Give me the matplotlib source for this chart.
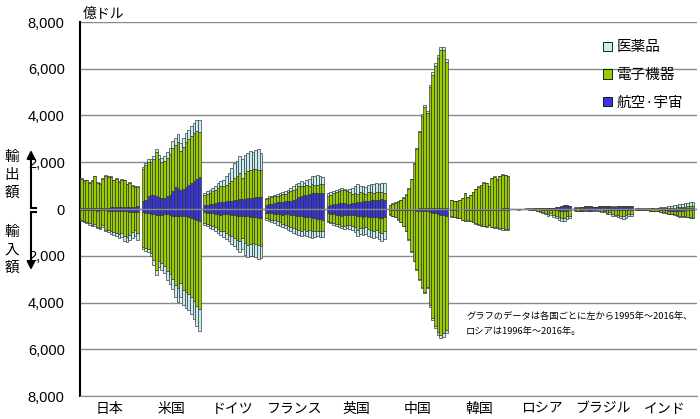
import matplotlib.pyplot as plt
from matplotlib.patches import Patch
import numpy as np

plt.rcParams['font.family'] = ['Noto Sans CJK JP', 'DejaVu Sans']

countries = ['日本', '米国', 'ドイツ', 'フランス', '英国', '中国', '韓国', 'ロシア', 'ブラジル', 'インド']
start_year = [1995, 1995, 1995, 1995, 1995, 1995, 1995, 1996, 1995, 1995]
series_names = ['医薬品', '電子機器', '航空·宇宙']

# 億ドル, exports (ex) and imports (im, stored as positive amounts)
jp_ex_aero = [40, 40, 45, 45, 45, 50, 50, 50, 50, 55, 60, 65, 70, 75, 75, 70, 75, 80, 85, 95, 100, 110]
jp_ex_elec = [1260, 1160, 1185, 1065, 1155, 1350, 1060, 1025, 1245, 1365, 1310, 1305, 1150, 1215, 1075, 1180, 1145, 970, 1015, 905, 850, 810]
jp_ex_phar = [30, 30, 30, 30, 30, 30, 30, 35, 35, 40, 40, 40, 40, 40, 40, 40, 40, 40, 40, 40, 50, 50]
jp_im_aero = [60, 60, 55, 60, 55, 60, 65, 60, 60, 60, 65, 70, 75, 80, 75, 80, 90, 100, 110, 120, 120, 130]
jp_im_elec = [430, 465, 500, 560, 630, 600, 690, 735, 640, 820, 845, 890, 915, 935, 1010, 940, 1080, 1080, 995, 885, 795, 915]
jp_im_phar = [40, 45, 45, 50, 55, 55, 60, 65, 70, 80, 90, 100, 110, 130, 160, 180, 220, 250, 240, 240, 230, 270]

us_ex_aero = [360, 400, 540, 610, 590, 570, 520, 470, 460, 540, 610, 760, 940, 900, 830, 860, 940, 1040, 1120, 1190, 1290, 1370]
us_ex_elec = [1340, 1465, 1460, 1420, 1530, 1855, 1640, 1530, 1590, 1660, 1760, 1860, 1800, 1960, 1650, 1800, 1920, 1940, 1990, 2040, 2030, 1930]
us_ex_phar = [100, 110, 120, 130, 140, 150, 170, 190, 210, 230, 250, 280, 300, 330, 350, 380, 400, 420, 440, 460, 480, 500]
us_im_aero = [140, 150, 180, 200, 220, 250, 260, 240, 230, 230, 250, 280, 300, 320, 300, 300, 320, 350, 380, 420, 480, 500]
us_im_elec = [1480, 1510, 1540, 1670, 1980, 2350, 1950, 2080, 2200, 2440, 2550, 2700, 2950, 3080, 2850, 3160, 3250, 3280, 3380, 3500, 3660, 3780]
us_im_phar = [100, 120, 140, 160, 190, 220, 250, 280, 320, 360, 400, 450, 500, 560, 600, 640, 680, 700, 740, 780, 860, 920]

de_ex_aero = [160, 190, 210, 230, 260, 290, 310, 320, 330, 340, 360, 390, 400, 430, 440, 430, 460, 470, 490, 500, 510, 515]
de_ex_elec = [460, 470, 470, 530, 570, 610, 660, 660, 710, 770, 830, 940, 1000, 1110, 890, 1110, 1160, 1190, 1200, 1190, 1150, 1140]
de_ex_phar = [70, 100, 140, 140, 140, 210, 220, 280, 360, 430, 570, 640, 640, 720, 790, 790, 760, 810, 740, 830, 890, 740]
de_im_aero = [140, 150, 165, 180, 200, 220, 240, 230, 220, 230, 240, 260, 280, 300, 290, 300, 320, 330, 340, 360, 380, 390]
de_im_elec = [460, 480, 505, 530, 570, 640, 680, 730, 810, 870, 930, 980, 1040, 1090, 960, 1160, 1210, 1160, 1120, 1130, 1150, 1180]
de_im_phar = [100, 110, 130, 140, 160, 180, 200, 220, 250, 280, 310, 340, 380, 430, 450, 490, 520, 540, 530, 560, 620, 530]

fr_ex_aero = [180, 200, 230, 260, 280, 280, 300, 330, 330, 360, 400, 440, 500, 560, 580, 600, 640, 680, 690, 700, 690, 680]
fr_ex_elec = [250, 270, 280, 280, 290, 330, 340, 330, 380, 400, 430, 420, 470, 440, 390, 440, 360, 390, 350, 340, 400, 410]
fr_ex_phar = [40, 70, 60, 70, 90, 80, 80, 100, 120, 140, 140, 230, 150, 190, 150, 220, 290, 330, 390, 430, 310, 280]
fr_im_aero = [150, 160, 180, 200, 220, 230, 240, 230, 230, 240, 260, 280, 300, 320, 330, 340, 360, 380, 400, 420, 440, 450]
fr_im_elec = [240, 270, 280, 290, 310, 340, 390, 440, 490, 530, 550, 580, 590, 600, 530, 580, 530, 540, 520, 500, 480, 470]
fr_im_phar = [70, 100, 110, 110, 140, 150, 140, 150, 170, 190, 220, 210, 210, 250, 240, 250, 310, 320, 290, 250, 280, 280]

uk_ex_aero = [140, 170, 200, 230, 250, 250, 240, 230, 230, 250, 270, 290, 320, 350, 330, 350, 370, 380, 390, 400, 410, 400]
uk_ex_elec = [430, 450, 490, 490, 510, 580, 560, 530, 490, 410, 420, 370, 400, 340, 330, 370, 350, 310, 330, 320, 310, 290]
uk_ex_phar = [110, 100, 70, 110, 100, 70, 70, 70, 140, 240, 290, 390, 260, 310, 290, 290, 330, 400, 400, 370, 400, 430]
uk_im_aero = [180, 200, 220, 240, 260, 280, 270, 250, 240, 250, 270, 290, 310, 330, 320, 330, 340, 350, 360, 370, 380, 360]
uk_im_elec = [320, 350, 380, 390, 400, 440, 460, 430, 440, 460, 510, 620, 490, 500, 450, 530, 560, 590, 540, 610, 630, 590]
uk_im_phar = [60, 70, 80, 90, 100, 110, 130, 150, 170, 190, 220, 240, 250, 270, 280, 290, 300, 310, 300, 320, 340, 350]

cn_ex_aero = [10, 10, 10, 10, 10, 15, 15, 15, 15, 20, 20, 25, 30, 35, 35, 40, 45, 50, 50, 60, 60, 60]
cn_ex_elec = [160, 220, 255, 295, 365, 475, 605, 835, 1250, 1910, 2530, 3265, 3950, 4335, 4085, 5160, 5695, 6080, 6430, 6760, 6760, 6220]
cn_ex_phar = [20, 20, 25, 25, 25, 30, 30, 30, 35, 40, 50, 60, 70, 80, 80, 100, 110, 120, 120, 130, 130, 120]
cn_im_aero = [30, 30, 30, 35, 35, 40, 45, 50, 55, 60, 65, 70, 80, 90, 100, 130, 160, 180, 210, 240, 270, 290]
cn_im_elec = [200, 270, 315, 400, 520, 680, 895, 1245, 1755, 2145, 2495, 2915, 3260, 3450, 3230, 3970, 4490, 4810, 5060, 5160, 5050, 4880]
cn_im_phar = [10, 10, 15, 15, 15, 20, 20, 25, 30, 35, 40, 45, 50, 60, 70, 80, 100, 110, 120, 130, 140, 150]

kr_ex_aero = [5, 5, 5, 5, 10, 10, 10, 10, 10, 10, 10, 10, 15, 15, 15, 20, 20, 20, 20, 25, 25, 25]
kr_ex_elec = [360, 350, 320, 390, 455, 675, 505, 605, 705, 845, 950, 1020, 1115, 1095, 970, 1295, 1365, 1250, 1390, 1440, 1415, 1370]
kr_ex_phar = [5, 5, 5, 5, 5, 5, 5, 5, 5, 5, 10, 10, 10, 10, 15, 15, 15, 20, 20, 25, 30, 35]
kr_im_aero = [30, 30, 30, 20, 20, 30, 30, 30, 30, 40, 40, 40, 50, 50, 50, 50, 60, 60, 60, 60, 60, 60]
kr_im_elec = [290, 320, 330, 370, 430, 485, 455, 485, 520, 580, 620, 655, 660, 680, 615, 700, 720, 725, 755, 770, 785, 785]
kr_im_phar = [10, 10, 10, 10, 10, 15, 15, 15, 20, 20, 20, 25, 30, 30, 35, 40, 40, 45, 45, 50, 55, 55]

ru_ex_aero = [5, 5, 5, 5, 10, 10, 10, 10, 15, 15, 20, 20, 25, 30, 30, 40, 50, 100, 130, 120, 110]
ru_ex_elec = [10, 10, 10, 10, 10, 10, 10, 15, 15, 15, 20, 20, 20, 20, 20, 25, 25, 25, 30, 30, 30]
ru_ex_phar = [5, 5, 5, 5, 5, 5, 5, 5, 5, 5, 5, 5, 5, 5, 5, 5, 5, 5, 5, 5, 5]
ru_im_aero = [5, 5, 5, 5, 5, 5, 10, 10, 15, 20, 25, 30, 40, 40, 50, 60, 80, 100, 90, 70, 60]
ru_im_elec = [10, 15, 10, 5, 10, 15, 20, 35, 55, 75, 100, 140, 170, 150, 190, 230, 260, 290, 310, 250, 240]
ru_im_phar = [5, 5, 5, 5, 5, 10, 10, 15, 20, 25, 35, 50, 70, 70, 90, 110, 120, 130, 130, 100, 100]

br_ex_aero = [30, 30, 40, 60, 80, 90, 80, 70, 70, 80, 80, 80, 90, 90, 80, 80, 90, 90, 90, 100, 100, 90]
br_ex_elec = [30, 30, 30, 30, 30, 40, 40, 30, 30, 30, 30, 30, 30, 30, 20, 20, 20, 20, 20, 20, 20, 20]
br_ex_phar = [5, 5, 5, 5, 5, 5, 5, 5, 5, 10, 10, 10, 10, 10, 15, 15, 15, 15, 15, 15, 15, 15]
br_im_aero = [20, 20, 25, 25, 20, 30, 25, 15, 15, 20, 20, 25, 35, 30, 35, 40, 45, 50, 55, 50, 40, 35]
br_im_elec = [40, 45, 50, 45, 40, 50, 45, 35, 40, 50, 55, 75, 135, 115, 175, 200, 215, 230, 245, 220, 170, 160]
br_im_phar = [10, 15, 15, 20, 20, 20, 20, 20, 25, 30, 35, 40, 50, 55, 70, 80, 90, 100, 110, 100, 90, 85]

in_ex_aero = [5, 5, 5, 5, 5, 5, 5, 5, 5, 5, 5, 10, 10, 15, 20, 20, 30, 40, 40, 40, 40, 40]
in_ex_elec = [10, 10, 10, 15, 15, 15, 20, 15, 20, 25, 30, 25, 35, 35, 40, 50, 50, 50, 60, 70, 70, 80]
in_ex_phar = [15, 15, 20, 20, 20, 25, 25, 30, 35, 40, 45, 55, 65, 80, 90, 100, 120, 140, 150, 160, 170, 170]
in_im_aero = [5, 5, 5, 5, 10, 10, 10, 10, 20, 30, 40, 60, 70, 80, 70, 80, 90, 80, 60, 60, 60, 60]
in_im_elec = [30, 40, 40, 40, 45, 55, 55, 60, 70, 90, 100, 110, 130, 135, 165, 190, 220, 240, 250, 270, 295, 305]
in_im_phar = [5, 5, 5, 5, 5, 5, 5, 10, 10, 10, 10, 10, 10, 15, 15, 20, 20, 20, 20, 20, 25, 25]

table = [
    (jp_ex_aero, jp_ex_elec, jp_ex_phar, jp_im_aero, jp_im_elec, jp_im_phar),
    (us_ex_aero, us_ex_elec, us_ex_phar, us_im_aero, us_im_elec, us_im_phar),
    (de_ex_aero, de_ex_elec, de_ex_phar, de_im_aero, de_im_elec, de_im_phar),
    (fr_ex_aero, fr_ex_elec, fr_ex_phar, fr_im_aero, fr_im_elec, fr_im_phar),
    (uk_ex_aero, uk_ex_elec, uk_ex_phar, uk_im_aero, uk_im_elec, uk_im_phar),
    (cn_ex_aero, cn_ex_elec, cn_ex_phar, cn_im_aero, cn_im_elec, cn_im_phar),
    (kr_ex_aero, kr_ex_elec, kr_ex_phar, kr_im_aero, kr_im_elec, kr_im_phar),
    (ru_ex_aero, ru_ex_elec, ru_ex_phar, ru_im_aero, ru_im_elec, ru_im_phar),
    (br_ex_aero, br_ex_elec, br_ex_phar, br_im_aero, br_im_elec, br_im_phar),
    (in_ex_aero, in_ex_elec, in_ex_phar, in_im_aero, in_im_elec, in_im_phar),
]

c_phar = '#c8eef5'
c_elec = '#99cc00'
c_aero = '#3737e0'
edge = '#2a2a2a'
grid_c = '#888888'
slot = 23  # 22 years + 1 empty slot between countries

fig = plt.figure(figsize=(7, 4.19), dpi=100)
ax = fig.add_axes([80 / 700, 23 / 419, 617 / 700, 374 / 419])

kw = dict(width=1.0, edgecolor=edge, linewidth=0.45, zorder=3)
for g, arrs in enumerate(table):
    ea, ee, ep, ia, ie, ip = [np.array(a, dtype=float) for a in arrs]
    x = g * slot + (start_year[g] - 1995) + np.arange(len(ea))
    ax.bar(x, ea, color=c_aero, **kw)
    ax.bar(x, ee, bottom=ea, color=c_elec, **kw)
    ax.bar(x, ep, bottom=ea + ee, color=c_phar, **kw)
    ax.bar(x, -ia, color=c_aero, **kw)
    ax.bar(x, -ie, bottom=-ia, color=c_elec, **kw)
    ax.bar(x, -ip, bottom=-ia - ie, color=c_phar, **kw)

ax.set_xlim(-0.5, 10 * slot - 0.5)
ax.set_ylim(-8000, 8000)
yt = np.arange(-8000, 8001, 2000)
ax.set_yticks(yt)
ax.set_yticklabels([f'{abs(v):,}' for v in yt], family='Liberation Sans', fontsize=10.5)
ax.set_xticks([g * slot + 10.5 for g in range(len(countries))])
ax.set_xticklabels(countries, fontsize=10)
ax.tick_params(length=0)
ax.tick_params(axis='y', pad=11)
ax.tick_params(axis='x', pad=4)

ax.grid(axis='y', color=grid_c, linewidth=1)
ax.set_axisbelow(True)
ax.axhline(0, color=grid_c, linewidth=1, zorder=4)
for s in ['top', 'right']:
    ax.spines[s].set_visible(False)
ax.spines['bottom'].set_color(grid_c)
ax.spines['left'].set_linewidth(1.5)
ax.spines['left'].set_color('black')

handles = [Patch(facecolor=c, edgecolor='black', linewidth=0.6) for c in (c_phar, c_elec, c_aero)]
fig.legend(handles, series_names, loc='upper left', bbox_to_anchor=(596 / 700, 1 - 33 / 419),
           frameon=False, fontsize=10.5, handlelength=0.6, handleheight=0.6,
           handletextpad=0.3, labelspacing=0.95, borderpad=0)

# overlay in pixel coordinates for the side labels and notes
ov = fig.add_axes([0, 0, 1, 1])
ov.set_xlim(0, 700)
ov.set_ylim(419, 0)
ov.axis('off')

ov.text(83, 14, '億ドル', fontsize=10, va='center', ha='left')
for ch, yy in zip('輸出額', (157, 175, 193)):
    ov.text(12, yy, ch, fontsize=10.5, ha='center', va='center')
for ch, yy in zip('輸入額', (232, 250, 268)):
    ov.text(12, yy, ch, fontsize=10.5, ha='center', va='center')

arrow = dict(arrowstyle='-|>', color='black', lw=1.5, mutation_scale=12, shrinkA=0, shrinkB=0)
ov.annotate('', xy=(31, 150), xytext=(31, 208), arrowprops=arrow)
ov.plot([31, 36], [208, 208], color='black', lw=1.5)
ov.annotate('', xy=(31, 270), xytext=(31, 212), arrowprops=arrow)
ov.plot([31, 36], [212, 212], color='black', lw=1.5)

ov.text(466, 316, 'グラフのデータは各国ごとに左から1995年～2016年、', fontsize=6.7, va='center', ha='left')
ov.text(466, 331, 'ロシアは1996年～2016年。', fontsize=6.7, va='center', ha='left')

fig.savefig('out.png', dpi=100)
